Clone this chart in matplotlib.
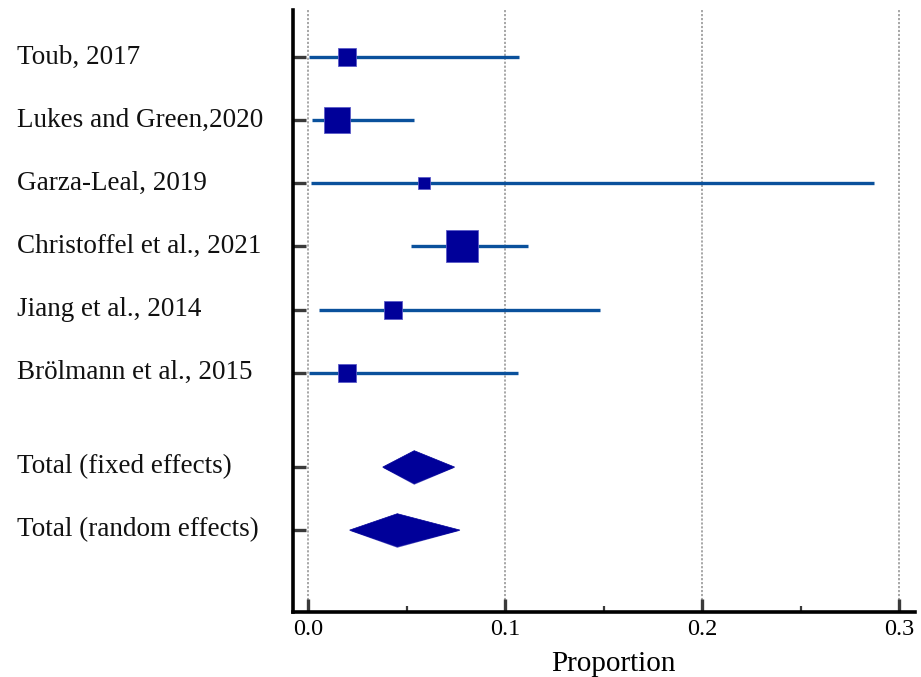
import matplotlib
matplotlib.use("Agg")
import matplotlib.pyplot as plt
import matplotlib.transforms as mtransforms
from matplotlib.patches import Polygon
import numpy as np

# Study-level proportions with 95% confidence intervals
studies = ["Toub, 2017", "Lukes and Green,2020", "Garza-Leal, 2019",
           "Christoffel et al., 2021", "Jiang et al., 2014", "Brölmann et al., 2015"]
estimate = [0.0195, 0.0147, 0.0587, 0.0781, 0.0428, 0.0196]
ci_low = [0.0005, 0.0017, 0.0014, 0.0524, 0.0056, 0.0004]
ci_high = [0.1068, 0.0538, 0.2871, 0.1115, 0.1483, 0.1067]
weights = [12.2, 22.9, 5.7, 34.7, 12.2, 12.2]

# Pooled estimates
pooled = ["Total (fixed effects)", "Total (random effects)"]
pooled_est = [0.0538, 0.0452]
pooled_low = [0.0378, 0.0210]
pooled_high = [0.0743, 0.0770]

xticks = [0.0, 0.1, 0.2, 0.3]
xticklabels = ["0.0", "0.1", "0.2", "0.3"]
xminor = [0.05, 0.15, 0.25]

line_col = "#0A519C"
box_col = "#000099"
serif = ["Liberation Serif", "DejaVu Serif"]
plt.rcParams["font.family"] = serif

fig = plt.figure(figsize=(9.21, 6.77), dpi=100)
ax = fig.add_axes([0.3178, 0.096, 0.6757, 0.889])

study_y = np.arange(len(studies), dtype=float)
pooled_y = study_y[-1] + 1.5 + np.arange(len(pooled))

# Confidence interval lines and weighted boxes
side_scale = 32 / np.sqrt(max(weights)) * 72 / 100
for y, est, lo, hi, w in zip(study_y, estimate, ci_low, ci_high, weights):
    ax.plot([lo, hi], [y, y], color=line_col, lw=2.4, solid_capstyle="butt", zorder=3)
    ax.plot(est, y, marker="s", ms=side_scale * np.sqrt(w), color=box_col,
            mec="#5a5ac8", mew=0.6, zorder=4)

# Pooled diamonds
half_h = 0.26
for y, est, lo, hi in zip(pooled_y, pooled_est, pooled_low, pooled_high):
    shade = Polygon([[lo, y + 0.01], [hi, y + 0.01], [est, y + half_h + 0.02]],
                    closed=True, facecolor="#4a4ab8", edgecolor="none", zorder=3)
    ax.add_patch(shade)
    dia = Polygon([[lo, y], [est, y - half_h], [hi, y], [est, y + half_h]],
                  closed=True, facecolor=box_col, edgecolor=box_col, lw=0.5, zorder=4)
    ax.add_patch(dia)

ax.set_xlim(-0.0079, 0.308)
ax.set_ylim(pooled_y[-1] + 1.3, -0.75)

# Axes styling
for s in ["top", "right"]:
    ax.spines[s].set_visible(False)
for s in ["left", "bottom"]:
    ax.spines[s].set_linewidth(2.6)
    ax.spines[s].set_color("black")

ax.set_xticks(xticks)
ax.set_xticklabels(xticklabels, fontsize=17.5)
ax.set_xticks(xminor, minor=True)
ax.tick_params(axis="x", which="major", direction="in", length=9.5, width=2.4,
               color="#3a3a3a", pad=5)
ax.tick_params(axis="x", which="minor", direction="in", length=4, width=1.6,
               color="#3a3a3a")
ax.set_yticks(np.concatenate([study_y, pooled_y]))
ax.set_yticklabels([])
ax.tick_params(axis="y", direction="in", length=9.5, width=2.4, color="#3a3a3a")

for xv in xticks:
    ax.axvline(xv, color="#a0a0a0", lw=1.3, ls=(0, (1.2, 1.0)), zorder=1)

ax.set_xlabel("Proportion", fontsize=21)
ax.xaxis.set_label_coords(0.515, -0.065)

# Row labels, left-aligned in the margin
trans = mtransforms.blended_transform_factory(fig.transFigure, ax.transData)
for y, name in zip(np.concatenate([study_y, pooled_y]), studies + pooled):
    ax.text(17 / 921, y, name, transform=trans, ha="left", va="center",
            fontsize=19.5, color="#111111")

fig.savefig("out.png", dpi=100)
